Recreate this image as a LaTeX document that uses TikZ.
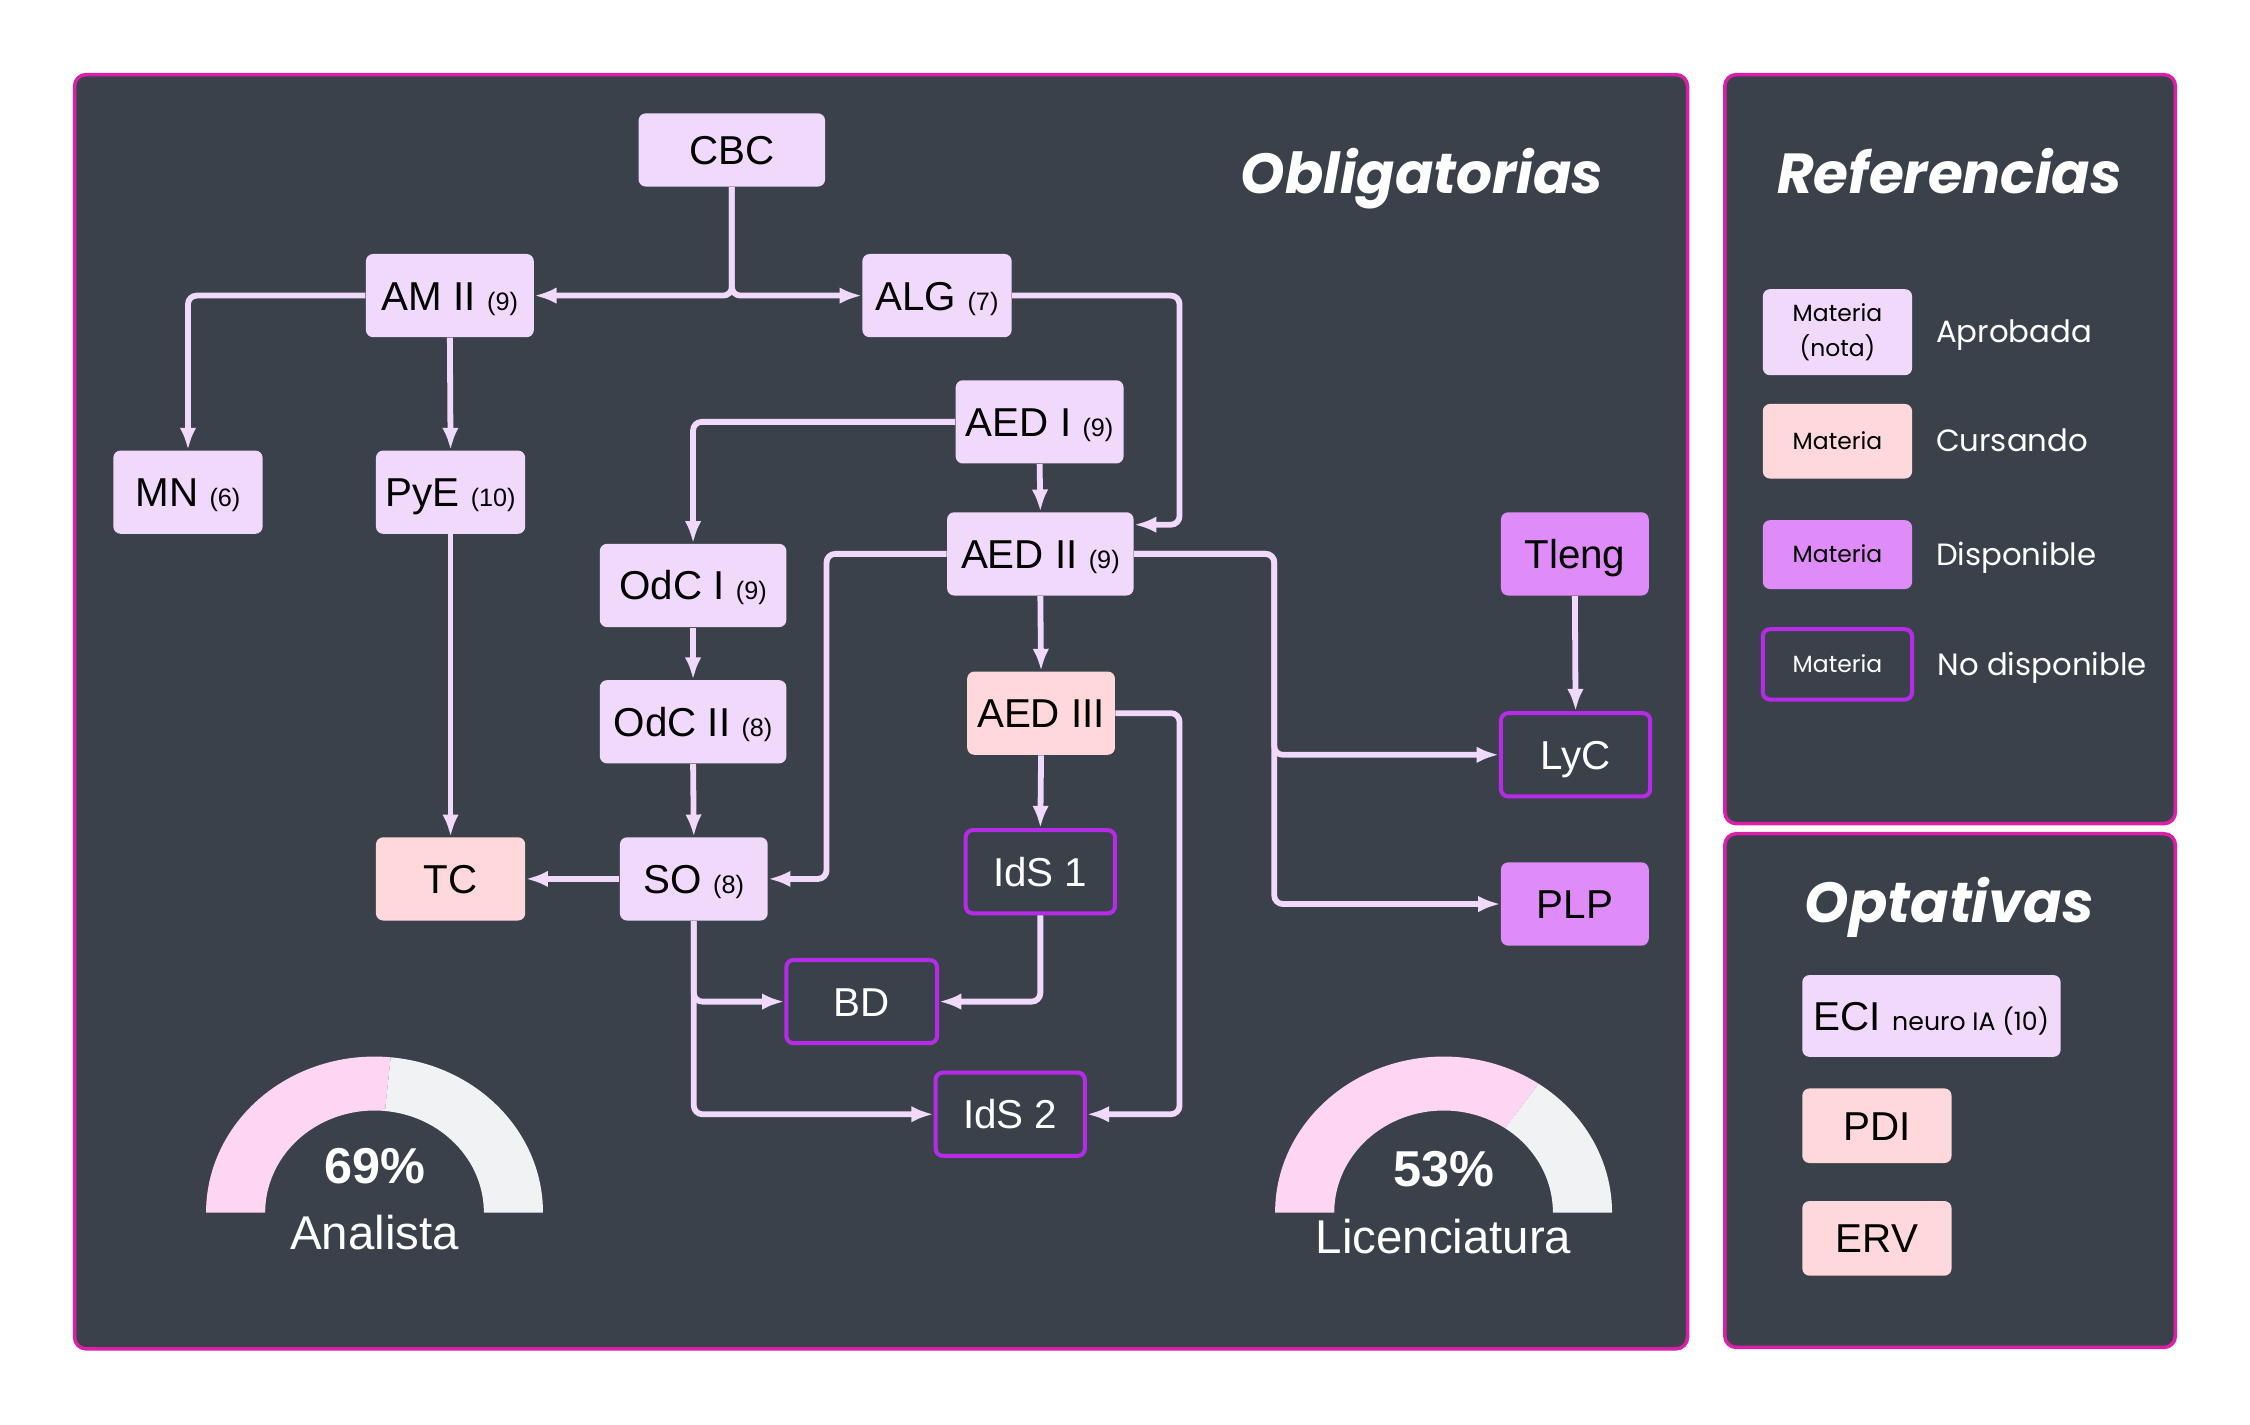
\documentclass[tikz,border=0pt]{standalone}
\usepackage{fontspec}
\setmainfont{Liberation Sans}
\newfontfamily\poppins{Poppins}
\usepackage{tikz}
\usetikzlibrary{shapes,arrows.meta,calc,positioning}

\definecolor{panelbg}{HTML}{3B414B}
\definecolor{panelborde}{HTML}{DC1FA9}
\definecolor{aprob}{HTML}{F1D9FC}
\definecolor{cursa}{HTML}{FED8DA}
\definecolor{dispo}{HTML}{DF8CF8}
\definecolor{nodispo}{HTML}{B62BE8}
\definecolor{flecha}{HTML}{F1D9FC}
\definecolor{gaugepink}{HTML}{FED6F4}
\definecolor{gaugegray}{HTML}{F1F2F4}

\newcommand{\nota}[1]{{\fontsize{10}{10}\selectfont(#1)}}

\tikzset{
  panel/.style={draw=panelborde, line width=1.4pt, fill=panelbg, rounded corners=1.6mm},
  titulo/.style={text=white, anchor=base, font=\poppins\bfseries\itshape\fontsize{22.4}{22.4}\selectfont},
  materia/.style={rounded corners=1mm, minimum height=11.6mm, inner sep=0pt, align=center,
    text height=11.5pt, text depth=0pt, font=\fontsize{16}{16}\selectfont},
  aprobada/.style={materia, fill=aprob, text=black},
  cursando/.style={materia, fill=cursa, text=black},
  disponible/.style={materia, fill=dispo, text=black},
  nodisp/.style={materia, draw=nodispo, line width=1.6pt, fill=panelbg, text=white},
  refbox/.style={minimum width=20.8mm, text height=6.5pt, font=\poppins\fontsize{9.3}{14.2}\selectfont},
  leyenda/.style={inner sep=0pt, text=white, text height=8.5pt, text depth=0pt, font=\poppins\fontsize{12.2}{12.2}\selectfont},
  conn/.style={draw=flecha, line width=2.3pt, rounded corners=1.2mm, -{Latex[length=3.1mm,width=2.3mm]}},
  gtexto/.style={text=white, anchor=base, font=\fontsize{18.8}{18.8}\selectfont},
  gpct/.style={gtexto, font=\bfseries\fontsize{20}{20}\selectfont},
}

\begin{document}
\begin{tikzpicture}[x=0.2mm, y=-0.2mm]
\fill[white] (0,0) rectangle (1568,993);
\useasboundingbox (0,0) rectangle (1568,993);
%
\draw[panel] (52,52) rectangle (1176,940);
\draw[panel] (1202,52) rectangle (1516,574);
\draw[panel] (1202,581) rectangle (1516,939);
%
\node[titulo] (tOblig) at (991,135) {Obligatorias};
\node[titulo] (tRef) at (1358.5,135) {Referencias};
\node[titulo] (tOpt) at (1358.5,643) {Optativas};
%
\node[aprobada, minimum width=26mm, minimum height=10.2mm] (CBC) at (510,104.5) {CBC};
\node[aprobada, minimum width=23.4mm] (AMII) at (313.5,206) {AM II \nota{9}};
\node[aprobada, minimum width=20.8mm] (ALG) at (653,206) {ALG \nota{7}};
\node[aprobada, minimum width=20.8mm] (MN) at (131,343) {MN \nota{6}};
\node[aprobada, minimum width=20.8mm] (PyE) at (314,343) {PyE \nota{10}};
\node[aprobada, minimum width=23.4mm] (AEDI) at (724.5,294) {AED I \nota{9}};
\node[aprobada, minimum width=26mm] (AEDII) at (725,386) {AED II \nota{9}};
\node[aprobada, minimum width=26mm] (OdCI) at (483,408) {OdC I \nota{9}};
\node[aprobada, minimum width=26mm] (OdCII) at (483,503) {OdC II \nota{8}};
\node[aprobada, minimum width=20.6mm] (SO) at (483.5,612.5) {SO \nota{8}};
\node[cursando, minimum width=20.6mm] (AEDIII) at (725.5,497) {AED III};
\node[cursando, minimum width=20.8mm] (TC) at (314,612.5) {TC};
\node[disponible, minimum width=20.6mm] (Tleng) at (1097.5,386) {Tleng};
\node[disponible, minimum width=20.6mm] (PLP) at (1097.5,630) {PLP};
\node[nodisp, minimum width=20.8mm] (LyC) at (1098,526) {LyC};
\node[nodisp, minimum width=20.8mm] (IdS1) at (725,607.5) {IdS 1};
\node[nodisp, minimum width=21mm] (BD) at (600.5,698) {BD};
\node[nodisp, minimum width=20.8mm] (IdS2) at (704,776.5) {IdS 2};
%
\coordinate (busA) at (822,0);
\coordinate (busB) at (576,0);
\coordinate (busC) at (888,0);
\coordinate (entAEDII) at ([yshift=-1.8mm]AEDII.north east);
%
\draw[conn] (CBC.south) |- (AMII.east);
\draw[conn] (CBC.south) |- (ALG.west);
\draw[conn] (AMII.west) -| (MN.north);
\draw[conn] (AMII.south) -- (PyE.north);
\draw[conn] (ALG.east) -| (busA |- entAEDII) -- (entAEDII);
\draw[conn] (AEDI.west) -| (OdCI.north);
\draw[conn] (AEDI.south) -- (AEDII.north);
\draw[conn] (AEDII.west) -| (busB |- SO.east) -- (SO.east);
\draw[conn] (AEDII.south) -- (AEDIII.north);
\draw[conn] (AEDII.east) -| (busC |- LyC.west) -- (LyC.west);
\draw[conn] (AEDII.east) -| (busC |- PLP.west) -- (PLP.west);
\draw[conn] (Tleng.south) -- (LyC.north);
\draw[conn] (OdCI.south) -- (OdCII.north);
\draw[conn] (OdCII.south) -- (SO.north);
\draw[conn] (PyE.south) -- (TC.north);
\draw[conn] (SO.west) -- (TC.east);
\draw[conn] (AEDIII.south) -- (IdS1.north);
\draw[conn] (AEDIII.east) -| (busA |- IdS2.east) -- (IdS2.east);
\draw[conn] (IdS1.south) |- (BD.east);
\draw[conn] (SO.south) |- (BD.west);
\draw[conn] (SO.south) |- (IdS2.west);
%
% referencias
\node[aprobada, refbox, minimum height=12mm, text height={}, text depth={}] (refAprob) at (1280.5,231.5) {Materia\\(nota)};
\node[cursando, refbox, minimum height=10.4mm] (refCursa) at (1280.5,307.5) {Materia};
\node[disponible, refbox, minimum height=9.6mm] (refDispo) at (1280.5,386.5) {Materia};
\node[nodisp, refbox, minimum height=9.8mm] (refNoDisp) at (1280.5,463) {Materia};
\node[leyenda, right=3.2mm of refAprob] (lblAprob) {Aprobada};
\node[leyenda, right=3.2mm of refCursa] (lblCursa) {Cursando};
\node[leyenda, right=3.2mm of refDispo] (lblDispo) {Disponible};
\node[leyenda, right=3.2mm of refNoDisp] (lblNoDisp) {No disponible};
%
% optativas
\node[aprobada, minimum width=36mm, minimum height=11.4mm] (ECI) at (1346,708) {ECI {\poppins\fontsize{10}{10}\selectfont neuro IA (10)}};
\node[cursando, minimum width=20.8mm, minimum height=10.4mm] (PDI) at (1308,784.5) {PDI};
\node[cursando, minimum width=20.8mm, minimum height=10.4mm] (ERV) at (1308,863) {ERV};
%
% avance
\begin{scope}[shift={(261,845)}, y=0.2mm]
\fill[gaugepink] (180:117.4 and 108.7) arc[start angle=180, end angle=84.5, x radius=117.4, y radius=108.7]
  -- (84.5:76.2 and 71.1) arc[start angle=84.5, end angle=180, x radius=76.2, y radius=71.1] -- cycle;
\fill[gaugegray] (84.5:117.4 and 108.7) arc[start angle=84.5, end angle=0, x radius=117.4, y radius=108.7]
  -- (0:76.2 and 71.1) arc[start angle=0, end angle=84.5, x radius=76.2, y radius=71.1] -- cycle;
\end{scope}
\begin{scope}[shift={(1006,845)}, y=0.2mm]
\fill[gaugepink] (180:117.4 and 108.7) arc[start angle=180, end angle=55.7, x radius=117.4, y radius=108.7]
  -- (55.7:76.2 and 71.1) arc[start angle=55.7, end angle=180, x radius=76.2, y radius=71.1] -- cycle;
\fill[gaugegray] (55.7:117.4 and 108.7) arc[start angle=55.7, end angle=0, x radius=117.4, y radius=108.7]
  -- (0:76.2 and 71.1) arc[start angle=0, end angle=55.7, x radius=76.2, y radius=71.1] -- cycle;
\end{scope}
\node[gpct] (pctAna) at (261,824.6) {69\%};
\node[gtexto] (lblAna) at (261,871) {Analista};
\node[gpct] (pctLic) at (1006,827) {53\%};
\node[gtexto] (lblLic) at (1006,873.4) {Licenciatura};
\end{tikzpicture}
\end{document}
